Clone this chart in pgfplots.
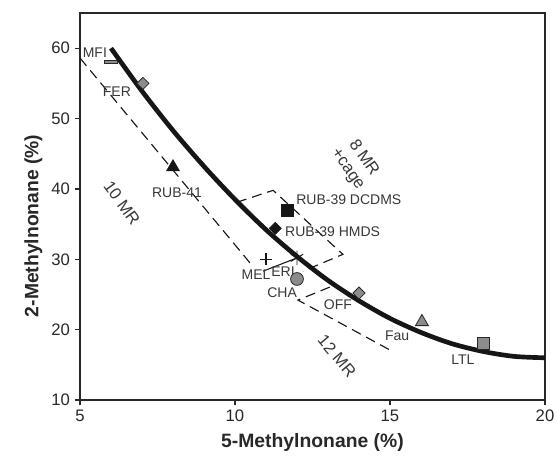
\documentclass[border=0pt]{standalone}
\usepackage{fontspec}
\setmainfont{Liberation Sans}
\usepackage{pgfplots}
\pgfplotsset{compat=1.18}
\definecolor{mgray}{RGB}{140,140,140}
\definecolor{dgray}{RGB}{40,40,40}
\definecolor{tgray}{RGB}{55,55,55}
\definecolor{cblack}{RGB}{22,22,22}
\begin{document}
\begin{tikzpicture}
\begin{axis}[
  scale only axis, width=348.75pt, height=290.25pt,
  xmin=5, xmax=20, ymin=10, ymax=65,
  xtick={5,10,15,20}, ytick={10,20,...,60},
  axis line style={draw=dgray, line width=0.9pt},
  tick style={draw=dgray, line width=0.9pt},
  tick align=outside, major tick length=4pt,
  xtick pos=bottom, ytick pos=left,
  ticklabel style={font=\fontsize{12.5}{14}\selectfont, text=dgray},
  /pgf/number format/assume math mode=true,
  xlabel={5-Methylnonane (\%)},
  ylabel={2-Methylnonane (\%)},
  label style={font=\fontsize{14.5}{17}\selectfont\bfseries, text=dgray},
  xlabel style={at={(axis description cs:0.5,-0.11)}, anchor=center},
  ylabel style={at={(axis description cs:-0.10,0.45)}, anchor=center},
  clip=false,
]
% dashed region boundaries
\addplot[cblack, line width=0.85pt, dash pattern=on 7.5pt off 4.5pt] coordinates {(5,58.6) (10.48,29.5)};
\addplot[cblack, line width=0.8pt] coordinates {(10.9,28.3) (12,30.2)};
\addplot[cblack, line width=0.85pt, dash pattern=on 7.5pt off 4.5pt] coordinates {(10.06,38.1) (11.23,39.8) (13.48,30.7) (12.19,28.3)};
\addplot[cblack, line width=0.85pt, dash pattern=on 7.5pt off 4.5pt] coordinates {(13.06,26.05) (12.03,24.2) (15.0,17.1)};
% fitted curve
\addplot[cblack, line width=3.5pt, smooth] coordinates {
 (6,60.0) (7,53.9) (8,48.3) (9,43.2) (10,38.5) (11,34.2) (12,30.4)
 (13,27.0) (14,24.1) (15,21.6) (16,19.6) (17,18.0) (18,16.9) (19,16.2) (20,16.0)};
% markers
\addplot[only marks, mark=square*, mark size=3pt, mark options={xscale=1.6, yscale=0.38, fill=mgray, draw=dgray, line width=0.8pt}] coordinates {(6.0,58.0)};
\addplot[only marks, mark=square*, mark size=3.2pt, mark options={rotate=45, fill=mgray, draw=dgray, line width=0.6pt}] coordinates {(7.03,55.0) (14.0,25.2)};
\addplot[only marks, mark=triangle*, mark size=5.6pt, mark options={fill=cblack, draw=cblack}] coordinates {(8.0,43.1)};
\addplot[only marks, mark=square*, mark size=4.5pt, mark options={fill=cblack, draw=cblack}] coordinates {(11.7,37.0)};
\addplot[only marks, mark=square*, mark size=3.2pt, mark options={rotate=45, fill=cblack, draw=cblack}] coordinates {(11.3,34.4)};
\addplot[only marks, mark=+, mark size=4.5pt, mark options={draw=cblack, line width=0.9pt}] coordinates {(11.0,30.0)};
\addplot[only marks, mark=asterisk, mark size=5.4pt, mark options={draw=cblack, line width=0.7pt}] coordinates {(12.0,30.2)};
\addplot[only marks, mark=*, mark size=4.8pt, mark options={fill=mgray, draw=dgray, line width=0.6pt}] coordinates {(12.0,27.2)};
\addplot[only marks, mark=triangle*, mark size=5.6pt, mark options={fill=mgray, draw=dgray, line width=0.6pt}] coordinates {(16.03,21.1)};
\addplot[only marks, mark=square*, mark size=4.5pt, mark options={fill=mgray, draw=dgray, line width=0.6pt}] coordinates {(18.0,18.1)};
% labels
\begin{scope}[every node/.style={font=\fontsize{10.5}{12}\selectfont, text=tgray, inner sep=0pt}]
\node at (axis cs:5.48,59.3) {MFI};
\node at (axis cs:6.19,53.75) {FER};
\node at (axis cs:8.13,39.5) {RUB-41};
\node[anchor=west] at (axis cs:11.97,38.4) {RUB-39 DCDMS};
\node[anchor=west] at (axis cs:11.61,33.9) {RUB-39 HMDS};
\node at (axis cs:10.68,27.8) {MEL};
\node at (axis cs:11.55,28.2) {ERI};
\node at (axis cs:11.52,25.2) {CHA};
\node at (axis cs:13.32,23.6) {OFF};
\node at (axis cs:15.23,19.2) {Fau};
\node at (axis cs:17.35,15.7) {LTL};
\end{scope}
\begin{scope}[every node/.style={font=\fontsize{12.5}{13}\selectfont, text=tgray, inner sep=0pt}]
\node[rotate=-54] at (axis cs:6.35,38.0) {10 MR};
\node[rotate=-50] at (axis cs:13.29,16.25) {12 MR};
\node[rotate=-55] at (axis cs:14.19,44.5) {8 MR};
\node[rotate=-55] at (axis cs:13.61,42.7) {+cage};
\end{scope}
\end{axis}
\pgfresetboundingbox
\path[use as bounding box] ([xshift=-60pt,yshift=-48.75pt]current axis.south west) rectangle ([xshift=9pt,yshift=9.75pt]current axis.north east);
\end{tikzpicture}
\end{document}
